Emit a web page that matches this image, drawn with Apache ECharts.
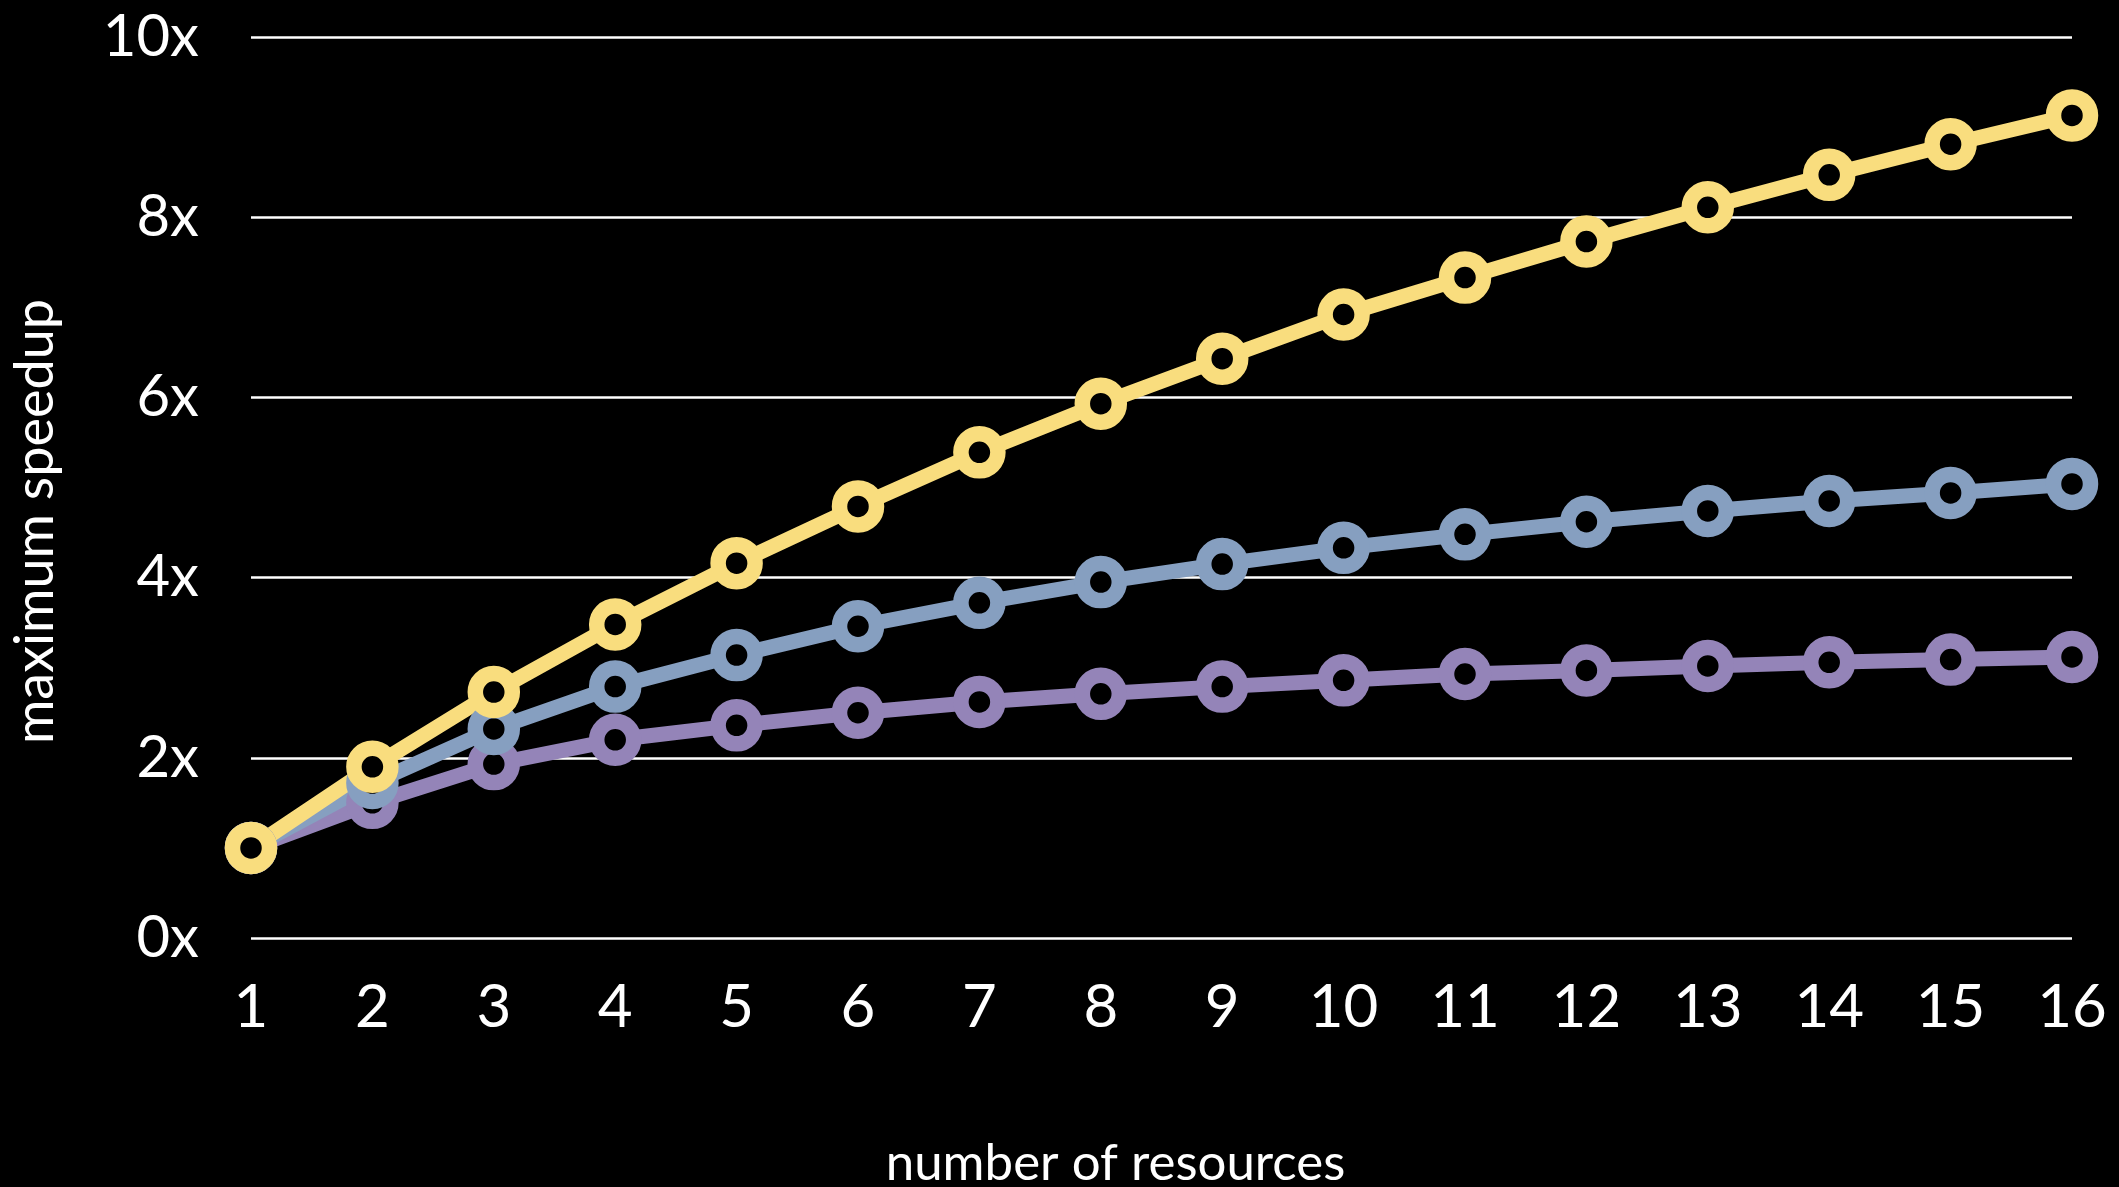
<!DOCTYPE html>
<html>
<head>
<meta charset="utf-8">
<script src="https://cdn.jsdelivr.net/npm/echarts@6/dist/echarts.min.js"></script>
<style>
  html, body { margin: 0; padding: 0; background: #000; }
  #chart { width: 2119px; height: 1187px; }
</style>
</head>
<body>
<div id="chart"></div>
<script>
const resources = ['1', '2', '3', '4', '5', '6', '7', '8', '9', '10', '11', '12', '13', '14', '15', '16']
const yellowSpeedup = [1, 1.90, 2.73, 3.48, 4.16, 4.79, 5.39, 5.93, 6.43, 6.92, 7.33, 7.73, 8.11, 8.47, 8.81, 9.13]
const blueSpeedup = [1, 1.72, 2.32, 2.79, 3.14, 3.46, 3.72, 3.95, 4.15, 4.33, 4.48, 4.62, 4.74, 4.85, 4.94, 5.04]
const purpleSpeedup = [1, 1.50, 1.93, 2.20, 2.36, 2.50, 2.62, 2.71, 2.79, 2.86, 2.93, 2.97, 3.02, 3.06, 3.09, 3.12]

const font = 'Lato, "Open Sans", sans-serif'

function lineSeries(name, data, color) {
  return {
    name,
    type: 'line',
    data,
    symbol: 'circle',
    symbolSize: 37,
    showAllSymbol: true,
    lineStyle: { width: 15, color },
    itemStyle: { color: '#000', borderColor: color, borderWidth: 15.5 },
    emphasis: { disabled: true }
  }
}

const chart = echarts.init(document.getElementById('chart'), null, { renderer: 'canvas' })

chart.setOption({
  animation: false,
  backgroundColor: '#000',
  grid: { left: 251, right: 47, top: 37, bottom: 249, outerBoundsMode: 'none', containLabel: false },
  xAxis: {
    type: 'category',
    data: resources,
    boundaryGap: false,
    axisLine: { show: false },
    axisTick: { show: false },
    axisLabel: { color: '#fff', fontFamily: font, fontSize: 60, margin: 40 },
    name: 'number of resources',
    nameLocation: 'middle',
    nameGap: 200,
    nameTextStyle: { color: '#fff', fontFamily: font, fontSize: 51, padding: [0, 92, 0, 0] }
  },
  yAxis: {
    type: 'value',
    min: 0,
    max: 10,
    interval: 2,
    axisLine: { show: false },
    axisTick: { show: false },
    axisLabel: {
      color: '#fff', fontFamily: font, fontSize: 58, margin: 52,
      formatter: v => v + 'x'
    },
    splitLine: { lineStyle: { color: '#fff', width: 2.5 } },
    name: 'maximum speedup',
    nameLocation: 'middle',
    nameGap: 188,
    nameTextStyle: { color: '#fff', fontFamily: font, fontSize: 54, padding: [0, 0, 0, -68] }
  },
  series: [
    lineSeries('purple', purpleSpeedup, '#9484b8'),
    lineSeries('blue', blueSpeedup, '#869fc0'),
    lineSeries('yellow', yellowSpeedup, '#f9dd7e')
  ]
})
</script>
</body>
</html>
